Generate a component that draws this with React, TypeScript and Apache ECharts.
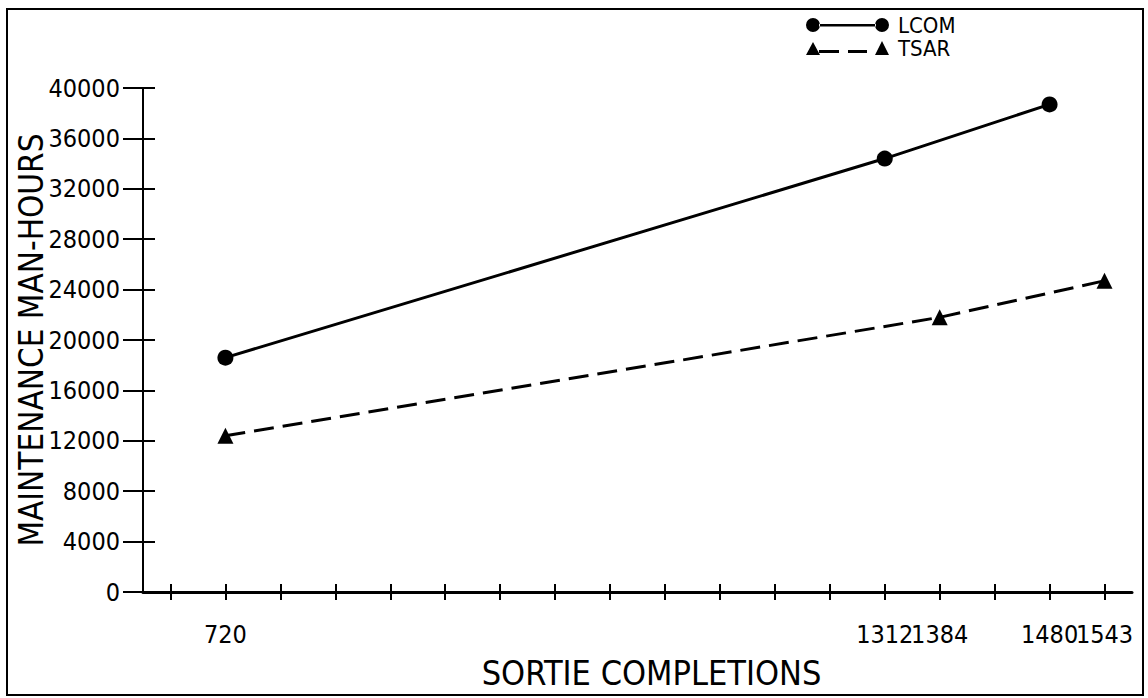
import React, { useEffect, useRef } from "react";
import * as echarts from "echarts";

// Tick positions along the sortie axis (blank = unlabeled tick)
const xTickLabels = ["", "720", "", "", "", "", "", "", "", "", "", "", "", "1312", "1384", "", "1480", "1543"];
const yTicks = [0, 4000, 8000, 12000, 16000, 20000, 24000, 28000, 32000, 36000, 40000];

const seriesNames = ["LCOM", "TSAR"];
const lcomX = ["720", "1312", "1480"];
const lcomY = [18600, 34400, 38700];
const tsarX = ["720", "1384", "1543"];
const tsarY = [12400, 21800, 24700];

const xName = "SORTIE COMPLETIONS";
const yName = "MAINTENANCE MAN-HOURS";

const FONT = "'DejaVu Sans Condensed', 'Liberation Sans Narrow', sans-serif";

const LCOM_ICON =
  "path://M0 7A7 7 0 1 0 14 7A7 7 0 1 0 0 7Z M13 6L70 6L70 8.5L13 8.5Z M69 7A7 7 0 1 0 83 7A7 7 0 1 0 69 7Z";
const TSAR_ICON =
  "path://M0 14L7 1L14 14Z M13 9L33 9L33 12L13 12Z M42 9L61 9L61 12L42 12Z M69 14L76 0L83 14Z";

export default function App() {
  const ref = useRef<HTMLDivElement>(null);
  useEffect(() => {
    document.body.style.margin = "0";
    const chart = echarts.init(ref.current!, null, { renderer: "svg" });
    const yMin = yTicks[0];
    const yMax = yTicks[yTicks.length - 1];
    const yInterval = yTicks[1] - yTicks[0];
    const gridBox = { left: 143, right: 16, top: 88, bottom: 106, containLabel: false, outerBoundsMode: "none" };
    chart.setOption({
      animation: false,
      backgroundColor: "#ffffff",
      textStyle: { fontFamily: FONT, color: "#000" },
      graphic: [
        {
          type: "rect",
          shape: { x: 7, y: 9, width: 1136, height: 686 },
          style: { fill: "none", stroke: "#000", lineWidth: 2 },
          silent: true,
        },
      ],
      legend: {
        orient: "vertical",
        left: 801,
        top: 9,
        itemWidth: 83,
        itemHeight: 14,
        itemGap: 1,
        symbolKeepAspect: false,
        textStyle: { fontFamily: FONT, fontSize: 22, color: "#000", lineHeight: 22, padding: [0, 0, 0, 4] },
        data: [
          { name: seriesNames[0], icon: LCOM_ICON },
          { name: seriesNames[1], icon: TSAR_ICON },
        ],
      },
      grid: [{ ...gridBox }, { ...gridBox }],
      xAxis: [
        {
          type: "category",
          gridIndex: 0,
          data: xTickLabels,
          boundaryGap: true,
          name: xName,
          nameLocation: "middle",
          nameGap: 64,
          nameMoveOverlap: false,
          nameTextStyle: { fontFamily: FONT, fontSize: 34, color: "#000", padding: [0, 0, 0, 28] },
          axisLine: { show: true, lineStyle: { color: "#000", width: 3 } },
          axisTick: { show: true, interval: 0, alignWithLabel: true, length: 8, lineStyle: { color: "#000", width: 2 } },
          axisLabel: { interval: 0, margin: 30, fontFamily: FONT, fontSize: 25, color: "#000" },
          splitLine: { show: false },
        },
        {
          type: "category",
          gridIndex: 1,
          data: xTickLabels,
          boundaryGap: true,
          axisLine: { show: false },
          axisTick: { show: true, inside: true, interval: 0, alignWithLabel: true, length: 8, lineStyle: { color: "#000", width: 2 } },
          axisLabel: { show: false },
          splitLine: { show: false },
        },
      ],
      yAxis: [
        {
          type: "value",
          gridIndex: 0,
          min: yMin,
          max: yMax,
          interval: yInterval,
          name: yName,
          nameLocation: "middle",
          nameGap: 95,
          nameMoveOverlap: false,
          nameTextStyle: { fontFamily: FONT, fontSize: 33, color: "#000" },
          axisLine: { show: true, lineStyle: { color: "#000", width: 2 } },
          axisTick: { show: true, length: 20, lineStyle: { color: "#000", width: 2 } },
          axisLabel: { margin: 23, fontFamily: FONT, fontSize: 25, color: "#000", formatter: (v: number) => String(v) },
          splitLine: { show: false },
        },
        {
          type: "value",
          gridIndex: 1,
          min: yMin,
          max: yMax,
          interval: yInterval,
          axisLine: { show: false },
          axisTick: { show: true, inside: true, length: 12, lineStyle: { color: "#000", width: 2 } },
          axisLabel: { show: false },
          splitLine: { show: false },
        },
      ],
      series: [
        {
          name: seriesNames[0],
          type: "line",
          xAxisIndex: 0,
          yAxisIndex: 0,
          data: lcomX.map((x, i) => [x, lcomY[i]]),
          symbol: "circle",
          symbolSize: 16,
          itemStyle: { color: "#000" },
          lineStyle: { color: "#000", width: 3, type: "solid" },
        },
        {
          name: seriesNames[1],
          type: "line",
          xAxisIndex: 0,
          yAxisIndex: 0,
          data: tsarX.map((x, i) => [x, tsarY[i]]),
          symbol: "triangle",
          symbolSize: 16,
          itemStyle: { color: "#000" },
          lineStyle: { color: "#000", width: 3, type: [20, 9] },
        },
      ],
    });
    return () => chart.dispose();
  }, []);
  return <div ref={ref} style={{ width: 1148, height: 698 }} />;
}
